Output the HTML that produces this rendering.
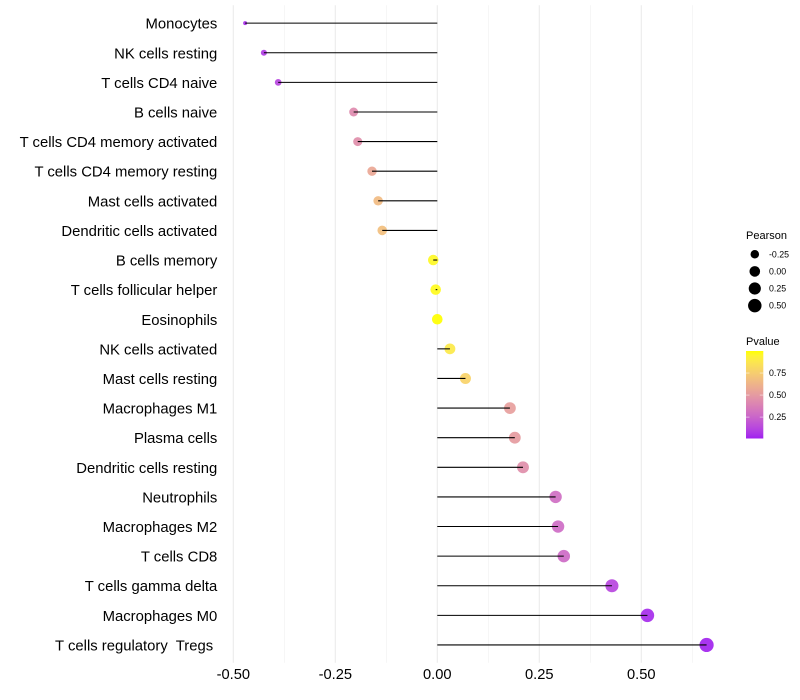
<!DOCTYPE html>
<html lang="en">
<head>
<meta charset="utf-8">
<title>Immune cell correlation lollipop chart</title>
<style>
html,body{margin:0;padding:0;background:#fff;}
svg{display:block;font-family:"Liberation Sans",sans-serif;}
</style>
</head>
<body>
<svg id="chart" width="800" height="700" viewBox="0 0 800 700" xmlns="http://www.w3.org/2000/svg"></svg>
<script>
const categories = ["Monocytes","NK cells resting","T cells CD4 naive","B cells naive","T cells CD4 memory activated","T cells CD4 memory resting","Mast cells activated","Dendritic cells activated","B cells memory","T cells follicular helper","Eosinophils","NK cells activated","Mast cells resting","Macrophages M1","Plasma cells","Dendritic cells resting","Neutrophils","Macrophages M2","T cells CD8","T cells gamma delta","Macrophages M0","T cells regulatory  Tregs "];
const pearson = [-0.471,-0.425,-0.39,-0.205,-0.195,-0.16,-0.145,-0.135,-0.01,-0.004,0,0.031,0.069,0.178,0.19,0.21,0.29,0.296,0.31,0.428,0.515,0.66];
const pvalue = [0.04,0.08,0.12,0.42,0.44,0.56,0.66,0.68,0.97,0.98,1,0.89,0.78,0.52,0.5,0.44,0.29,0.28,0.27,0.12,0.03,0.01];
const xTicks = [-0.5,-0.25,0,0.25,0.5];
const xTickLabels = ["-0.50","-0.25","0.00","0.25","0.50"];
const xMinor = [-0.375,-0.125,0.125,0.375,0.625];
const sizeBreaks = [-0.25,0,0.25,0.5];
const sizeLabels = ["-0.25","0.00","0.25","0.50"];
const colorBreaks = [0.75,0.5,0.25];
const colorLabels = ["0.75","0.50","0.25"];

const NS = "http://www.w3.org/2000/svg";
const svg = document.getElementById("chart");
function add(tag, attrs, parent, text) {
  const el = document.createElementNS(NS, tag);
  for (const k in attrs) el.setAttribute(k, attrs[k]);
  if (text !== undefined) { el.textContent = text; el.setAttribute("xml:space", "preserve"); el.style.whiteSpace = "pre"; }
  (parent || svg).appendChild(el);
  return el;
}
const xScale = v => 437.3 + v * 408;
const yScale = i => 23.15 + i * 29.61;
const pearsonMin = Math.min(...pearson);
const pearsonMax = Math.max(...pearson);
const radius = v => 2 + 5.1 * Math.sqrt(Math.max(0, (v - pearsonMin) / (pearsonMax - pearsonMin)));
const colorBarY = p => 439.1 - p * 88.1;

function srgbToLab(r, g, b) {
  const f = c => { c /= 255; return c <= 0.04045 ? c / 12.92 : Math.pow((c + 0.055) / 1.055, 2.4); };
  const R = f(r), G = f(g), B = f(b);
  const X = (0.4124 * R + 0.3576 * G + 0.1805 * B) / 0.95047;
  const Y = 0.2126 * R + 0.7152 * G + 0.0722 * B;
  const Z = (0.0193 * R + 0.1192 * G + 0.9505 * B) / 1.08883;
  const h = t => t > 0.008856 ? Math.cbrt(t) : 7.787 * t + 16 / 116;
  return [116 * h(Y) - 16, 500 * (h(X) - h(Y)), 200 * (h(Y) - h(Z))];
}
function labToCss(L, a, b) {
  const fy = (L + 16) / 116, fx = fy + a / 500, fz = fy - b / 200;
  const h = t => t * t * t > 0.008856 ? t * t * t : (t - 16 / 116) / 7.787;
  const X = h(fx) * 0.95047, Y = h(fy), Z = h(fz) * 1.08883;
  const g = c => { c = Math.min(1, Math.max(0, c)); return Math.round(255 * (c <= 0.0031308 ? 12.92 * c : 1.055 * Math.pow(c, 1 / 2.4) - 0.055)); };
  return "rgb(" + g(3.2406 * X - 1.5372 * Y - 0.4986 * Z) + "," + g(-0.9689 * X + 1.8758 * Y + 0.0415 * Z) + "," + g(0.0557 * X - 0.204 * Y + 1.057 * Z) + ")";
}
const labLow = srgbToLab(160, 32, 240);
const labHigh = srgbToLab(255, 255, 0);
const colorOf = p => labToCss(labLow[0] + (labHigh[0] - labLow[0]) * p, labLow[1] + (labHigh[1] - labLow[1]) * p, labLow[2] + (labHigh[2] - labLow[2]) * p);

/* grid */
xMinor.forEach(v => {
  const g = add("line", {x1: xScale(v), x2: xScale(v), y1: 5.3, y2: 662.7, stroke: "#f0f0f0", "stroke-width": 0.6});
  
  
});
xTicks.forEach(v => {
  const g = add("line", {x1: xScale(v), x2: xScale(v), y1: 5.3, y2: 662.7, stroke: "#ebebeb", "stroke-width": 1.07});
  
  
});

/* marks */
categories.forEach((c, i) => {
  const y = yScale(i);
  const dot = add("circle", {cx: xScale(pearson[i]), cy: y, r: radius(pearson[i]), fill: colorOf(pvalue[i]), "fill-opacity": 0.92});
  
  
});
categories.forEach((c, i) => {
  const y = yScale(i);
  const seg = add("line", {x1: xScale(0), x2: xScale(pearson[i]), y1: y, y2: y, stroke: "#000", "stroke-width": 1.07});
  
  
  const lab = add("text", {x: 217.3, y: y + 5.5, "text-anchor": "end", "font-size": 14.85, fill: "#000"}, svg, c);
  
  
});

/* x axis labels */
xTicks.forEach((v, i) => {
  const t = add("text", {x: xScale(v), y: 679, "text-anchor": "middle", "font-size": 14.67, fill: "#000"}, svg, xTickLabels[i]);
  
  
});

/* size legend */
const sizeTitle = add("text", {x: 746, y: 239, "font-size": 11, fill: "#000"}, svg, "Pearson");


sizeBreaks.forEach((v, i) => {
  const y = 254.3 + i * 17.1;
  const d = add("circle", {cx: 754.8, cy: y, r: radius(v), fill: "#000"});
  
  
  const t = add("text", {x: 769, y: y + 3.1, "font-size": 8.8, fill: "#000"}, svg, sizeLabels[i]);
  
  
});

/* color legend */
const colorTitle = add("text", {x: 746, y: 345, "font-size": 11, fill: "#000"}, svg, "Pvalue");


const defs = add("defs", {});
const grad = add("linearGradient", {id: "pvalueGradient", x1: 0, x2: 0, y1: 1, y2: 0}, defs);
for (let s = 0; s <= 20; s++) {
  add("stop", {offset: s / 20, "stop-color": colorOf(s / 20)}, grad);
}
const bar = add("rect", {x: 746, y: 351, width: 17.3, height: 87.5, fill: "url(#pvalueGradient)"});


colorBreaks.forEach((p, i) => {
  const y = colorBarY(p);
  const t1 = add("line", {x1: 746, x2: 749.5, y1: y, y2: y, stroke: "#fff", "stroke-width": 0.5});
  
  
  const t2 = add("line", {x1: 759.8, x2: 763.3, y1: y, y2: y, stroke: "#fff", "stroke-width": 0.5});
  
  
  const t = add("text", {x: 769, y: y + 3.1, "font-size": 8.8, fill: "#000"}, svg, colorLabels[i]);
  
  
});
</script>
</body>
</html>
